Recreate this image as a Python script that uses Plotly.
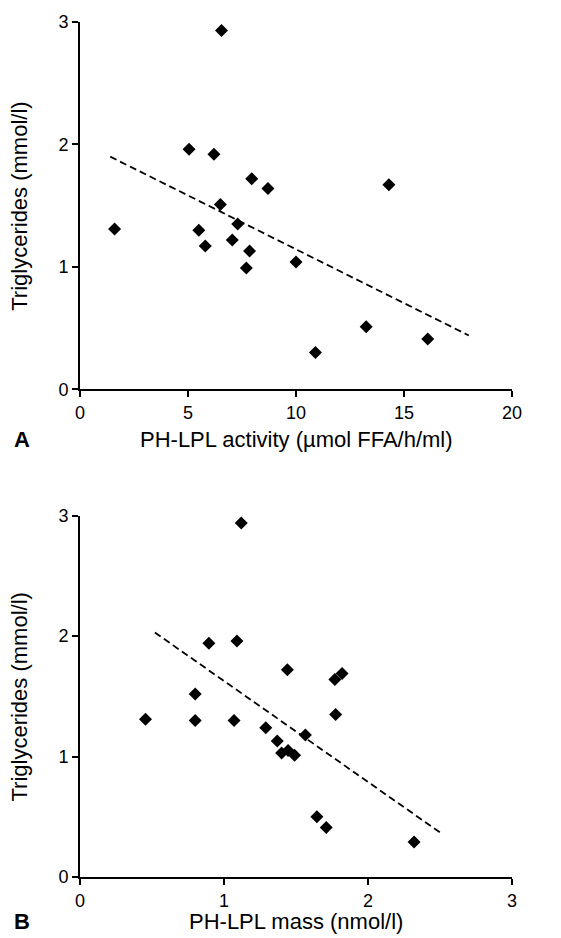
import plotly.graph_objects as go

# Panel A: PH-LPL activity vs triglycerides
act_x = [1.6, 5.05, 6.2, 6.55, 7.95, 8.7, 6.5, 14.3, 5.5, 7.3, 7.05, 5.8, 7.85, 7.7, 10.0, 10.9, 13.25, 16.1]
act_y = [1.31, 1.96, 1.92, 2.93, 1.72, 1.64, 1.51, 1.67, 1.30, 1.35, 1.22, 1.17, 1.13, 0.99, 1.04, 0.30, 0.51, 0.41]
act_fit_x = [1.4, 18.0]
act_fit_y = [1.90, 0.44]

# Panel B: PH-LPL mass vs triglycerides
mass_x = [1.12, 0.895, 1.09, 1.44, 1.77, 1.82, 0.455, 0.80, 0.80, 1.07, 1.29, 1.37, 1.40, 1.445, 1.49, 1.565, 1.775, 1.645, 1.71, 2.32]
mass_y = [2.94, 1.94, 1.96, 1.72, 1.64, 1.69, 1.31, 1.52, 1.30, 1.30, 1.24, 1.13, 1.03, 1.05, 1.01, 1.18, 1.35, 0.50, 0.41, 0.29]
mass_fit_x = [0.52, 2.50]
mass_fit_y = [2.03, 0.37]

x_ticks_a = [0, 5, 10, 15, 20]
x_ticks_b = [0, 1, 2, 3]
y_ticks = [0, 1, 2, 3]

FONT = "Liberation Sans, Arial, Helvetica, sans-serif"
marker = dict(symbol="diamond", size=10, color="black", line=dict(width=0))
dash_line = dict(color="black", width=1.8, dash="7px,4px")

fig = go.Figure()
fig.add_trace(go.Scatter(x=act_fit_x, y=act_fit_y, mode="lines", line=dash_line,
                         xaxis="x", yaxis="y", showlegend=False))
fig.add_trace(go.Scatter(x=act_x, y=act_y, mode="markers", marker=marker,
                         xaxis="x", yaxis="y", showlegend=False))
fig.add_trace(go.Scatter(x=mass_fit_x, y=mass_fit_y, mode="lines", line=dash_line,
                         xaxis="x2", yaxis="y2", showlegend=False))
fig.add_trace(go.Scatter(x=mass_x, y=mass_y, mode="markers", marker=marker,
                         xaxis="x2", yaxis="y2", showlegend=False))

axis_common = dict(showline=True, linecolor="black", linewidth=1.8, showgrid=False,
                   zeroline=False, ticks="outside", ticklen=6, tickwidth=1.5,
                   tickcolor="black", tickfont=dict(family=FONT, size=18, color="black"),
                   mirror=False, fixedrange=True)

fig.update_layout(
    width=561, height=938,
    margin=dict(l=80, r=49, t=18, b=61),
    paper_bgcolor="white", plot_bgcolor="white",
    font=dict(family=FONT, color="black"),
    xaxis=dict(axis_common, domain=[0, 1], range=[0, 20], tickvals=x_ticks_a, anchor="y"),
    yaxis=dict(axis_common, domain=[0.5704, 1.0], range=[0, 3], tickvals=y_ticks, anchor="x"),
    xaxis2=dict(axis_common, domain=[0, 1], range=[0, 3], tickvals=x_ticks_b, anchor="y2"),
    yaxis2=dict(axis_common, domain=[0, 0.4226], range=[0, 3], tickvals=y_ticks, anchor="x2"),
)

title_font = dict(family=FONT, size=22, color="black")
ann = [
    dict(text="PH-LPL activity (µmol FFA/h/ml)", x=0.5, y=0.512),
    dict(text="PH-LPL mass (nmol/l)", x=0.5, y=-0.0525),
    dict(text="<b>A</b>", x=-0.134, y=0.512),
    dict(text="<b>B</b>", x=-0.134, y=-0.0525),
    dict(text="Triglycerides (mmol/l)", x=-0.139, y=0.785, textangle=-90),
    dict(text="Triglycerides (mmol/l)", x=-0.139, y=0.211, textangle=-90),
]
for a in ann:
    fig.add_annotation(xref="paper", yref="paper", showarrow=False,
                       xanchor="center", yanchor="middle", font=title_font, **a)

fig.write_html("out.html", config={"displayModeBar": False},
               post_script="document.body.style.margin='0';")
